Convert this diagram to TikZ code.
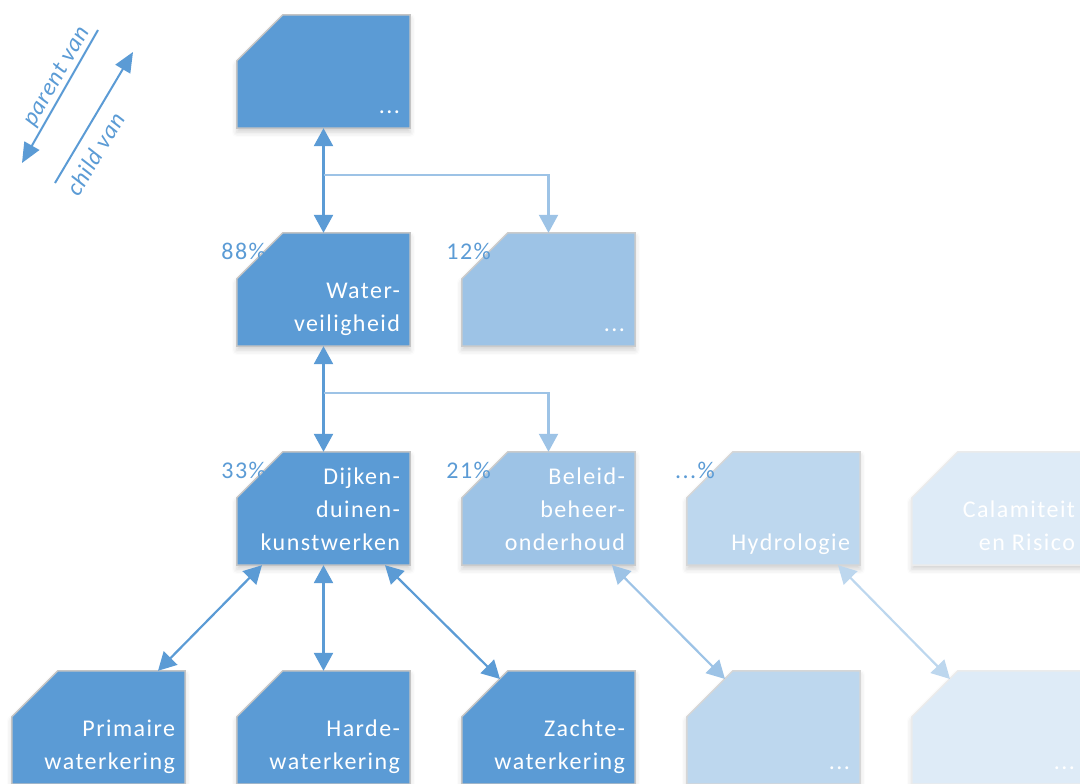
\documentclass[tikz,border=0pt]{standalone}
\usepackage{fontspec}
\setmainfont{Carlito}[LetterSpace=6]
\usetikzlibrary{arrows.meta,shadows.blur}

\definecolor{blueA}{HTML}{5B9BD5}
\definecolor{blueB}{HTML}{9DC3E6}
\definecolor{blueC}{HTML}{BDD7EE}
\definecolor{blueD}{HTML}{DEEBF7}
\definecolor{edgeA}{HTML}{C4C4C4}
\definecolor{edgeB}{HTML}{CBCBCB}
\definecolor{edgeC}{HTML}{D6D6D6}
\definecolor{edgeD}{HTML}{EBEBEB}

\newcommand\boxfont{\fontsize{24}{33}\selectfont}
\newcommand\legendfont{\fontsize{24}{28}\selectfont\itshape\addfontfeatures{LetterSpace=3}}
% outline of a card with its top-left corner cut off
\newcommand\cardoutline[1]{([xshift=46pt]#1.north west) -- (#1.north east) -- (#1.south east)
  -- (#1.south west) -- ([yshift=-46pt]#1.north west) -- cycle}

\pgfdeclarelayer{cards}
\pgfsetlayers{cards,main}

\begin{document}
\begin{tikzpicture}[x=1pt,y=-1pt,
  card/.style={rectangle, minimum width=173pt, minimum height=113pt, inner sep=0pt},
  cardshape/.style={line width=1.5pt,
    blur shadow={shadow xshift=0pt, shadow yshift=-4pt, shadow blur radius=5pt, shadow opacity=18}},
  cardtext/.style={label={[anchor=south east, inner sep=0pt, xshift=-10pt, yshift=4.6pt,
    text=white, align=right, font=\boxfont]south east:{#1\strut}}},
  pct/.style={anchor=base east, inner sep=0pt, text=blueA, font=\boxfont},
  tipA/.tip={Triangle[length=18pt, width=19pt]},
  linkA/.style={draw=blueA, line width=2.5pt, tipA-tipA},
  linkB/.style={draw=blueB, line width=2.2pt, -tipA},
  diagA/.style={draw=blueA, line width=2.2pt, tipA-tipA},
  diagB/.style={draw=blueB, line width=2.2pt, tipA-tipA},
  diagC/.style={draw=blueC, line width=2.2pt, tipA-tipA},
  legendarrow/.style={draw=blueA, line width=2pt, -{Triangle[length=20pt, width=17pt]}},
  legendtext/.style={inner sep=0pt, text=blueA, font=\legendfont}
]
\useasboundingbox (0,0) rectangle (1080,784);
\clip (0,0) rectangle (1080,784);

% legend: parent / child direction
\coordinate (pvA) at (98,30);
\coordinate (pvB) at (22,163);
\coordinate (cvA) at (55,183);
\coordinate (cvB) at (133,52);
\draw[legendarrow] (pvA) -- (pvB);
\draw[legendarrow] (cvA) -- (cvB);
\node[legendtext, rotate=60] (pvT) at (57,77) {parent van};
\node[legendtext, rotate=59] (cvT) at (95,154) {child van};

% row 1
\node[card, cardtext={...}] (top) at (323.5,71.5) {};

% row 2
\node[card, cardtext={Water-\\veiligheid}] (wv) at (323.5,289.5) {};
\node[card, cardtext={...}] (ot) at (548.5,289.5) {};

% row 3
\node[card, cardtext={Dijken-\\duinen-\\kunstwerken}] (dk) at (323.5,508.5) {};
\node[card, cardtext={Beleid-\\beheer-\\onderhoud}] (bl) at (548.5,508.5) {};
\node[card, cardtext={Hydrologie}] (hy) at (773.5,508.5) {};
\node[card, cardtext={Calamiteit\\en Risico}] (ca) at (998.5,508.5) {};

% row 4
\node[card, cardtext={Primaire\\waterkering}] (pr) at (98.5,727.5) {};
\node[card, cardtext={Harde-\\waterkering}] (hd) at (323.5,727.5) {};
\node[card, cardtext={Zachte-\\waterkering}] (zc) at (548.5,727.5) {};
\node[card, cardtext={...}] (b4) at (773.5,727.5) {};
\node[card, cardtext={...}] (b5) at (998.5,727.5) {};

% card bodies, under the card texts
\begin{pgfonlayer}{cards}
\foreach \n/\f/\e in {top/blueA/edgeA, wv/blueA/edgeA, ot/blueB/edgeB,
    dk/blueA/edgeA, bl/blueB/edgeB, hy/blueC/edgeC, ca/blueD/edgeD,
    pr/blueA/edgeA, hd/blueA/edgeA, zc/blueA/edgeA, b4/blueC/edgeC, b5/blueD/edgeD}
  \filldraw[cardshape, fill=\f, draw=\e] \cardoutline{\n};
\end{pgfonlayer}

% shares
\node[pct] (p88) at (266,259) {88\%};
\node[pct] (p12) at (491,259) {12\%};
\node[pct] (p33) at (266,478) {33\%};
\node[pct] (p21) at (491,478) {21\%};
\node[pct] (pxx) at (715,478) {...\%};

% links
\draw[linkA] (top.south) -- (wv.north);
\draw[linkB] ([yshift=-47pt]top.south) -| (ot.north);
\draw[linkA] (wv.south) -- (dk.north);
\draw[linkB] ([yshift=-47pt]wv.south) -| (bl.north);
\draw[diagA] ([xshift=-61.5pt]dk.south) -- ([xshift=59.5pt]pr.north);
\draw[linkA] (dk.south) -- (hd.north);
\draw[diagA] ([xshift=61.5pt]dk.south) -- ([xshift=-48.5pt,yshift=48.5pt]zc.center);
\draw[diagB] ([xshift=63.5pt]bl.south) -- ([xshift=-48.5pt,yshift=48.5pt]b4.center);
\draw[diagC] ([xshift=64.5pt]hy.south) -- ([xshift=-48.5pt,yshift=48.5pt]b5.center);
\end{tikzpicture}
\end{document}
